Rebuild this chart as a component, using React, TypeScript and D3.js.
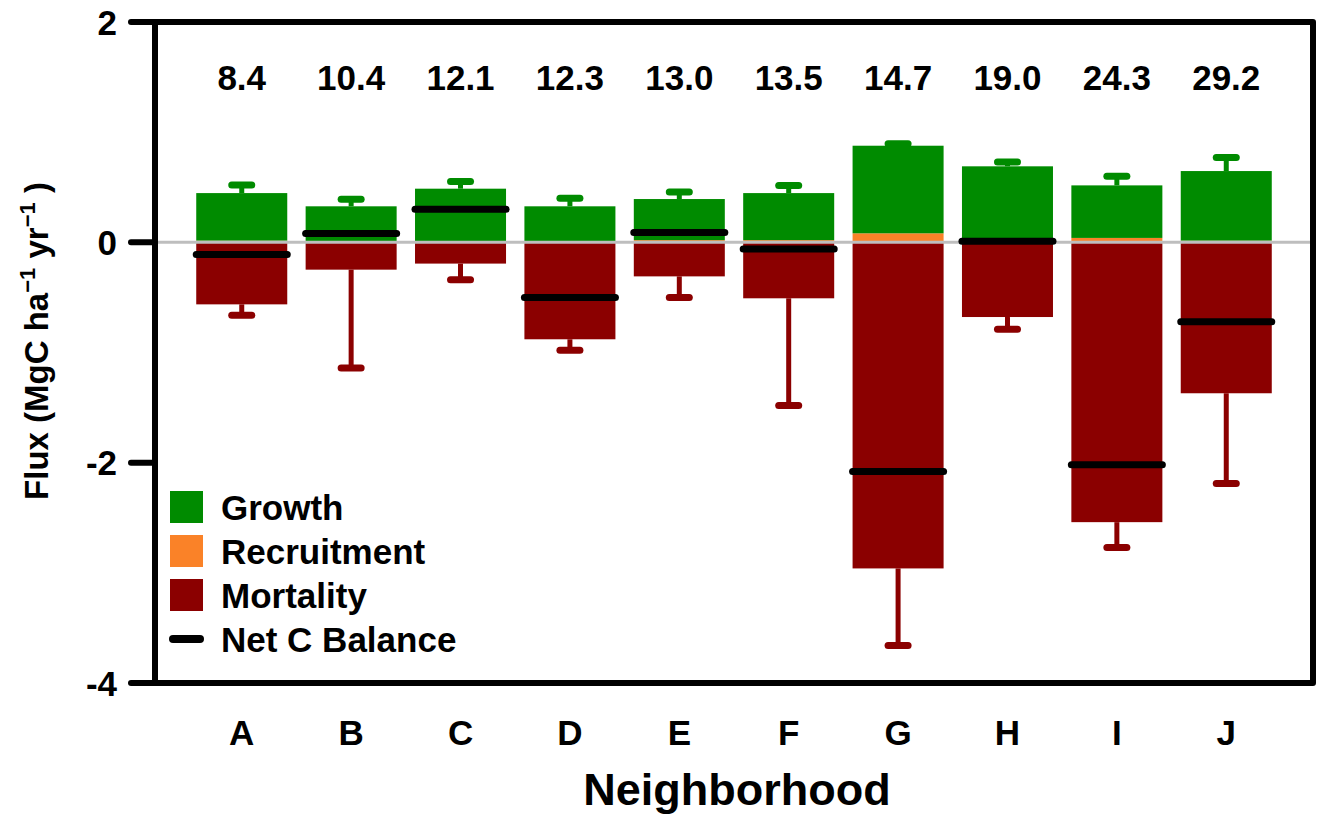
import React from "react";
import * as d3 from "d3";

const categories = ["A", "B", "C", "D", "E", "F", "G", "H", "I", "J"];
const topLabels = ["8.4", "10.4", "12.1", "12.3", "13.0", "13.5", "14.7", "19.0", "24.3", "29.2"];
const recruitment = [0.015, 0.008, 0.01, 0.01, 0.02, 0.02, 0.082, 0.005, 0.04, 0.015];
const growth = [0.432, 0.319, 0.477, 0.317, 0.373, 0.427, 0.795, 0.685, 0.477, 0.632];
const growthErr = [0.073, 0.063, 0.066, 0.073, 0.063, 0.07, 0.018, 0.04, 0.083, 0.123];
const mortality = [-0.563, -0.248, -0.193, -0.88, -0.309, -0.508, -2.96, -0.678, -2.54, -1.37];
const mortalityErr = [0.1, 0.892, 0.147, 0.1, 0.191, 0.972, 0.7, 0.112, 0.23, 0.82];
const netBalance = [-0.11, 0.08, 0.3, -0.5, 0.09, -0.06, -2.08, 0.01, -2.02, -0.72];
const yTicks = [2, 0, -2, -4];
const legendItems = ["Growth", "Recruitment", "Mortality", "Net C Balance"];

const W = 1330;
const H = 814;
const left = 155;
const right = 1313;
const top = 22;
const bottom = 683;

const cGreen = "#008B00";
const cOrange = "#FA8228";
const cRed = "#8B0000";
const font = "'Liberation Sans', Arial, Helvetica, sans-serif";

export default function App() {
  const x = d3
    .scaleBand<string>()
    .domain(categories)
    .range([left, right])
    .paddingInner(0.168)
    .paddingOuter(0.377);
  const y = d3.scaleLinear().domain([-4, 2]).range([bottom, top]);
  const bw = x.bandwidth();
  const legendColors = [cGreen, cOrange, cRed];

  return (
    <svg
      width={W}
      height={H}
      style={{ position: "absolute", left: 0, top: 0, background: "#fff" }}
      fontFamily={font}
      fontWeight="bold"
    >
      <rect x={0} y={0} width={W} height={H} fill="#fff" />
      {/* bars */}
      {categories.map((c, i) => {
        const x0 = x(c)!;
        return (
          <g key={c}>
            <rect x={x0} y={y(recruitment[i])} width={bw} height={y(0) - y(recruitment[i])} fill={cOrange} />
            <rect
              x={x0}
              y={y(recruitment[i] + growth[i])}
              width={bw}
              height={y(recruitment[i]) - y(recruitment[i] + growth[i])}
              fill={cGreen}
            />
            <rect x={x0} y={y(0)} width={bw} height={y(mortality[i]) - y(0)} fill={cRed} />
          </g>
        );
      })}
      {/* zero line */}
      <line x1={left} x2={right} y1={y(0)} y2={y(0)} stroke="#BEBEBE" strokeWidth={3} />
      {/* error bars */}
      {categories.map((c, i) => {
        const cx = x(c)! + bw / 2;
        const gTop = recruitment[i] + growth[i];
        const gEnd = gTop + growthErr[i];
        const mEnd = mortality[i] - mortalityErr[i];
        return (
          <g key={"e" + c}>
            <line x1={cx} x2={cx} y1={y(gTop)} y2={y(gEnd)} stroke={cGreen} strokeWidth={5} />
            <line x1={cx - 10} x2={cx + 10} y1={y(gEnd)} y2={y(gEnd)} stroke={cGreen} strokeWidth={7} strokeLinecap="round" />
            <line x1={cx} x2={cx} y1={y(mortality[i])} y2={y(mEnd)} stroke={cRed} strokeWidth={5} />
            <line x1={cx - 10} x2={cx + 10} y1={y(mEnd)} y2={y(mEnd)} stroke={cRed} strokeWidth={7} strokeLinecap="round" />
          </g>
        );
      })}
      {/* net balance */}
      {categories.map((c, i) => (
        <line
          key={"n" + c}
          x1={x(c)!}
          x2={x(c)! + bw}
          y1={y(netBalance[i])}
          y2={y(netBalance[i])}
          stroke="#000"
          strokeWidth={7}
          strokeLinecap="round"
        />
      ))}
      {/* frame */}
      <path
        d={`M${left},${top} L${right},${top} L${right},${bottom} L${left},${bottom} Z`}
        fill="none"
        stroke="#000"
        strokeWidth={6}
        strokeLinejoin="round"
      />
      {yTicks.map((t) => (
        <g key={"t" + t}>
          <line x1={131} x2={left} y1={y(t)} y2={y(t)} stroke="#000" strokeWidth={6} strokeLinecap="round" />
          <text x={117} y={y(t) + 12.5} textAnchor="end" fontSize={35}>
            {t}
          </text>
        </g>
      ))}
      {/* top labels */}
      {categories.map((c, i) => (
        <text key={"l" + c} x={x(c)! + bw / 2} y={90} textAnchor="middle" fontSize={35}>
          {topLabels[i]}
        </text>
      ))}
      {/* x tick labels */}
      {categories.map((c) => (
        <text key={"x" + c} x={x(c)! + bw / 2} y={745} textAnchor="middle" fontSize={35}>
          {c}
        </text>
      ))}
      <text x={737} y={805} textAnchor="middle" fontSize={45}>
        Neighborhood
      </text>
      <text transform="translate(48,341) rotate(-90)" textAnchor="middle" fontSize={33}>
        Flux (MgC ha
        <tspan fontSize={22} dy={-13}>
          −1
        </tspan>
        <tspan dy={13}> yr</tspan>
        <tspan fontSize={22} dy={-13}>
          −1
        </tspan>
        <tspan dy={13}> )</tspan>
      </text>
      {/* legend */}
      {legendItems.map((name, i) => {
        const ly = 491 + i * 44;
        return (
          <g key={name}>
            {i < 3 ? (
              <rect x={170} y={ly} width={33} height={32} fill={legendColors[i]} />
            ) : (
              <line x1={173} x2={200} y1={639} y2={639} stroke="#000" strokeWidth={8} strokeLinecap="round" />
            )}
            <text x={221} y={ly + 29} fontSize={35}>
              {name}
            </text>
          </g>
        );
      })}
    </svg>
  );
}
